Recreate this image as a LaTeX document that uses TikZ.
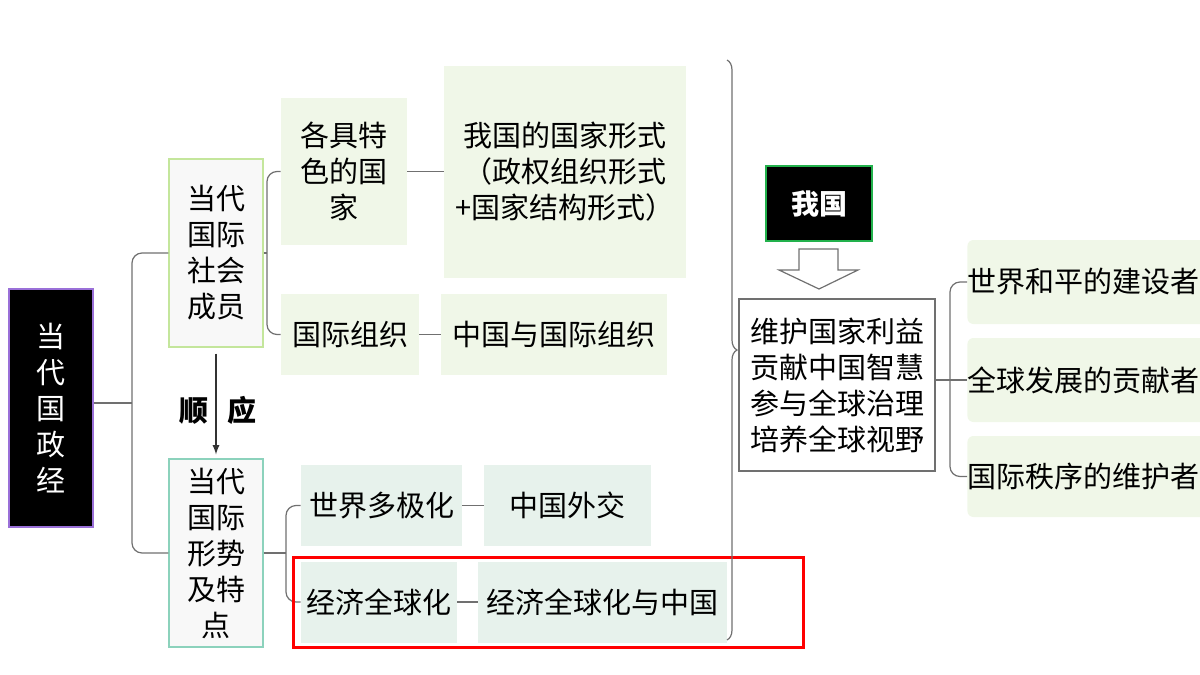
\documentclass[tikz,border=0pt]{standalone}
\usepackage{fontspec}
\setmainfont{Noto Sans CJK SC}
\usetikzlibrary{decorations.pathreplacing}
\definecolor{leafgreen}{HTML}{F0F7E8}
\definecolor{leafteal}{HTML}{E7F2EC}
\definecolor{boxgray}{HTML}{F8F8F8}
\definecolor{linegray}{HTML}{707070}
\definecolor{rootpurple}{HTML}{9A70D8}
\definecolor{membergreen}{HTML}{C4E69C}
\definecolor{trendteal}{HTML}{8CD2BC}
\definecolor{usgreen}{HTML}{22B14C}
\begin{document}
\begin{tikzpicture}[x=0.5pt,y=-0.5pt,
  every node/.style={font=\fontsize{14.5pt}{18pt}\selectfont, inner sep=0pt, align=center},
  conn/.style={draw=linegray, line width=0.6pt, rounded corners=5pt},
  leaf/.style={fill=leafgreen},
  tealleaf/.style={fill=leafteal, minimum height=40.5pt},
  role/.style={fill=leafgreen, rounded corners=3pt, anchor=west, minimum height=42pt, text width=125pt, align=left}]
  \useasboundingbox (0,0) rectangle (1200,675);
  % left trunk
  \node[fill=black, draw=rootpurple, line width=0.6pt, text=white, minimum width=42pt, minimum height=119pt] (root) at (51,408) {当\\代\\国\\政\\经};
  \node[fill=boxgray, draw=membergreen, line width=0.6pt, minimum width=47pt, minimum height=94pt] (member) at (216,253) {当代\\国际\\社会\\成员};
  \node[fill=boxgray, draw=trendteal, line width=0.6pt, minimum width=47pt, minimum height=94pt] (trend) at (216,553) {当代\\国际\\形势\\及特\\点};
  \draw[-latex, black!80, line width=0.6pt] ([yshift=-3pt]member.south) -- ([yshift=2pt]trend.north);
  \node[font=\fontsize{14.5pt}{18pt}\selectfont\bfseries] (shun) at (218,410) {顺\hspace{10pt}应};
  \coordinate (rootfork) at (132,403);
  \draw[conn] (rootfork -| root.east) -- (rootfork);
  \draw[conn] (member.west) -| (rootfork) |- (trend.west);
  % members
  \node[leaf, minimum width=63pt, minimum height=73.5pt] (states) at (344,171.5) {各具特\\色的国\\家};
  \node[leaf, minimum width=69pt, minimum height=40.5pt] (orgs) at (350,334.5) {国际组织};
  \node[leaf, minimum width=121pt, minimum height=106pt] (form) at (565,172) {我国的国家形式\\（政权组织形式\\+国家结构形式）};
  \node[leaf, minimum width=113pt, minimum height=40.5pt] (chinaorgs) at (554,334.5) {中国与国际组织};
  \coordinate (memberfork) at (267,253);
  \draw[conn] (member.east) -- (memberfork);
  \draw[conn] (states.west) -| (memberfork) |- (orgs.west);
  \draw[conn] (states.east) -- (states.east -| form.west);
  \draw[conn] (orgs.east) -- (chinaorgs.west);
  % trends
  \node[tealleaf, minimum width=80.5pt] (multipolar) at (381.5,505.5) {世界多极化};
  \node[tealleaf, minimum width=83.5pt] (diplomacy) at (567.5,505.5) {中国外交};
  \node[tealleaf, minimum width=78pt] (global) at (379,602) {经济全球化};
  \node[tealleaf, minimum width=124.5pt] (chinaglobal) at (602.5,602) {经济全球化与中国};
  \coordinate (trendfork) at (286,553);
  \draw[conn] (trend.east) -- (trendfork);
  \draw[conn] (multipolar.west) -| (trendfork) |- (global.west);
  \draw[conn] (multipolar.east) -- (diplomacy.west);
  \draw[conn] (global.east) -- (chinaglobal.west);
  \draw[red, line width=1.5pt] (293,557) rectangle (803,647); % highlight
  \draw[linegray, line width=0.6pt, decorate, decoration={brace, amplitude=5pt}] (727,60) -- (727,640);
  % right side
  \node[fill=black, draw=usgreen, line width=0.9pt, text=white, font=\fontsize{14pt}{18pt}\selectfont\bfseries, minimum width=53pt, minimum height=37.5pt] (us) at (819,203.5) {我国};
  \draw[linegray, line width=0.6pt] (799,249) -- (838,249) -- (838,270) -- (858,270) -- (819,289) -- (779,270) -- (799,270) -- cycle; % hollow arrow
  \node[draw=linegray, fill=white, line width=0.6pt, minimum width=98pt, minimum height=86pt] (duty) at (837,385) {维护国家利益\\贡献中国智慧\\参与全球治理\\培养全球视野};
  \node[role] (peace) at (967,282) {世界和平的建设者};
  \node[role] (develop) at (967,380) {全球发展的贡献者};
  \node[role, minimum height=40.5pt] (order) at (967,476.5) {国际秩序的维护者};
  \coordinate (dutyfork) at (950,380);
  \draw[conn] (dutyfork -| duty.east) -- (develop.west);
  \draw[conn] (peace.west) -| (dutyfork) |- (order.west);
\end{tikzpicture}
\end{document}
